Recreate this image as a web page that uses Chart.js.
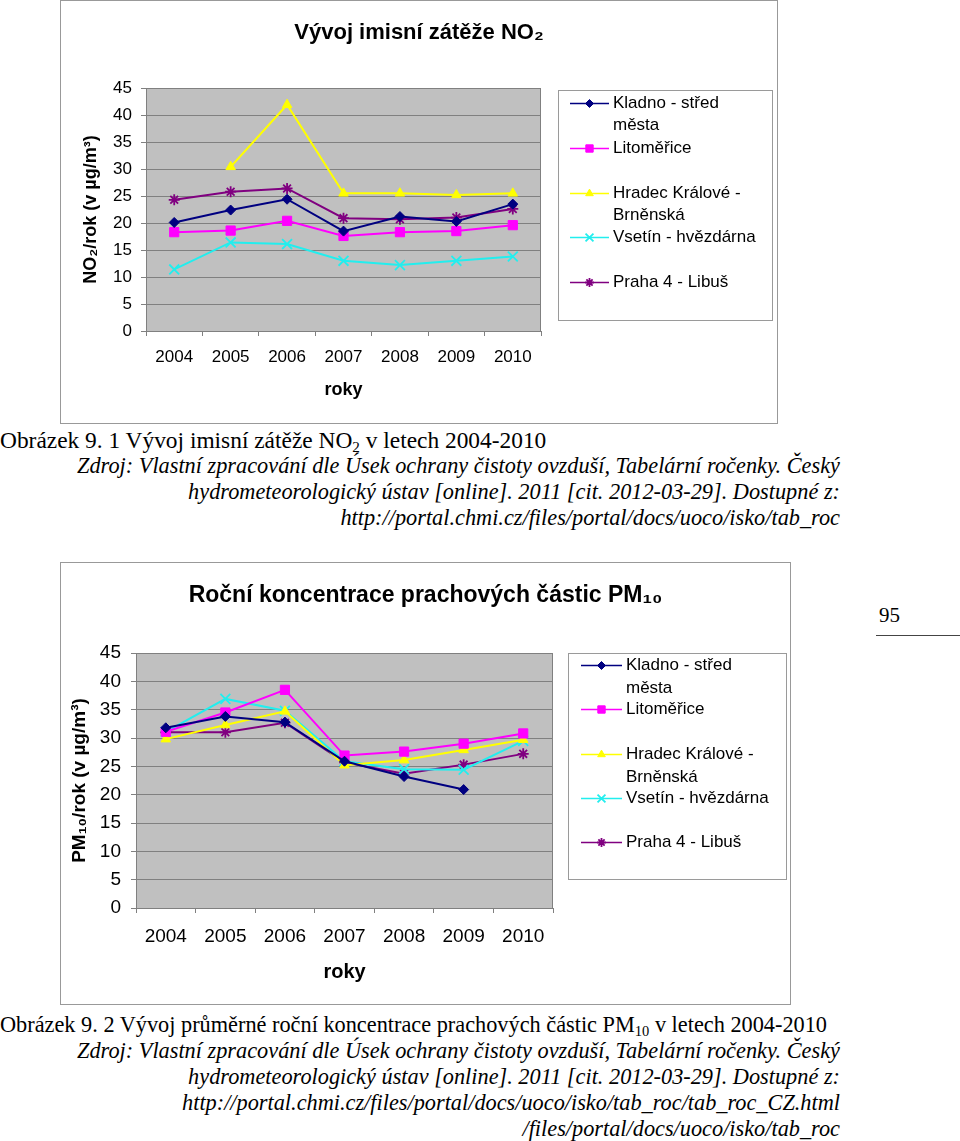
<!DOCTYPE html>
<html>
<head>
<meta charset="utf-8">
<script src="https://cdn.jsdelivr.net/npm/chart.js@4/dist/chart.umd.min.js"></script>
<style>
  html,body{margin:0;padding:0;background:#fff;}
  body{position:relative;width:960px;height:1141px;overflow:hidden;}
  .box{position:absolute;border:1px solid #999;background:#fff;}
  .box canvas{display:block;}
  .cap{position:absolute;left:0;font-family:'Liberation Serif','Times New Roman',serif;line-height:26px;color:#000;white-space:nowrap;}
  .src{position:absolute;left:0;width:840px;text-align:right;font-family:'Liberation Serif','Times New Roman',serif;font-style:italic;font-size:22.3px;line-height:26px;color:#000;white-space:nowrap;}
  sub{font-size:65%;vertical-align:-0.25em;line-height:0;}
  .pg{position:absolute;left:879px;top:603px;font-family:'Liberation Serif','Times New Roman',serif;font-size:21px;line-height:24px;}
  .pgline{position:absolute;left:876px;top:635px;width:84px;height:0;border-top:1px solid #444;}
</style>
</head>
<body>
<div class="box" style="left:60px;top:0px;"><canvas id="c1" width="716" height="422"></canvas></div>
<div class="cap" style="top:427px;font-size:23.4px;">Obrázek 9. 1 Vývoj imisní zátěže NO<sub>2</sub> v letech 2004-2010</div>
<div class="src" style="top:453px;">Zdroj: Vlastní zpracování dle Úsek ochrany čistoty ovzduší, Tabelární ročenky. Český<br>hydrometeorologický ústav [online]. 2011 [cit. 2012-03-29]. Dostupné z:<br>http://portal.chmi.cz/files/portal/docs/uoco/isko/tab_roc</div>

<div class="box" style="left:60px;top:562px;"><canvas id="c2" width="729" height="441"></canvas></div>
<div class="pg">95</div>
<div class="pgline"></div>
<div class="cap" style="top:1012px;font-size:22.3px;">Obrázek 9. 2 Vývoj průměrné roční koncentrace prachových částic PM<sub>10</sub> v letech 2004-2010</div>
<div class="src" style="top:1038px;">Zdroj: Vlastní zpracování dle Úsek ochrany čistoty ovzduší, Tabelární ročenky. Český<br>hydrometeorologický ústav [online]. 2011 [cit. 2012-03-29]. Dostupné z:<br>http://portal.chmi.cz/files/portal/docs/uoco/isko/tab_roc/tab_roc_CZ.html<br>/files/portal/docs/uoco/isko/tab_roc</div>

<script>
// ---------- DATA ----------
const years = ['2004','2005','2006','2007','2008','2009','2010'];
const seriesNames = ['Kladno - střed města','Litoměřice','Hradec Králové - Brněnská','Vsetín - hvězdárna','Praha 4 - Libuš'];
const legendLines = [['Kladno - střed','města'],['Litoměřice'],['Hradec Králové -','Brněnská'],['Vsetín - hvězdárna'],['Praha 4 - Libuš']];
const seriesColors = ['#000080','#FF00FF','#FFFF00','#22EEEE','#800080'];
const seriesMarkers = ['rectRot','rect','triangle','crossRot','star'];
const yTickMin = 0, yTickMax = 45, yTickStep = 5;

const no2Kladno     = [20.1, 22.4, 24.4, 18.5, 21.2, 20.3, 23.5];
const no2Litomerice = [18.3, 18.6, 20.4, 17.6, 18.3, 18.5, 19.6];
const no2Hradec     = [null, 30.4, 41.9, 25.5, 25.5, 25.2, 25.5];
const no2Vsetin     = [11.4, 16.4, 16.1, 13.0, 12.2, 13.0, 13.8];
const no2Praha      = [24.3, 25.8, 26.4, 20.9, 20.7, 21.0, 22.6];

const pmKladno      = [31.8, 33.8, 32.8, 25.9, 23.2, 20.9, null];
const pmLitomerice  = [31.1, 34.5, 38.5, 26.9, 27.6, 29.0, 30.8];
const pmHradec      = [29.8, 32.3, 34.7, 25.2, 26.1, 27.9, 29.7];
const pmVsetin      = [31.1, 36.9, 34.8, 25.9, 24.5, 24.4, 29.5];
const pmPraha       = [31.0, 31.0, 32.7, 25.7, 23.7, 25.3, 27.2];

const titleNO2 = 'Vývoj imisní zátěže NO₂';
const titlePM = 'Roční koncentrace prachových částic PM₁₀';
const yTitleNO2 = 'NO₂/rok (v µg/m³)';
const yTitlePM = 'PM₁₀/rok (v µg/m³)';
const xTitle = 'roky';

// ---------- HELPERS ----------
const SANS = "'Liberation Sans', Arial, sans-serif";
Chart.defaults.font.family = SANS;
Chart.defaults.color = '#000';

const markerRadius = {rectRot:5, rect:6.5, triangle:5.5, crossRot:7, star:5.5};

function makeDatasets(arrs){
  return arrs.map((d,i)=>({
    label: seriesNames[i],
    data: d,
    yAxisID: 'y',
    xAxisID: 'x',
    borderColor: seriesColors[i],
    backgroundColor: seriesColors[i],
    pointStyle: seriesMarkers[i],
    pointRadius: markerRadius[seriesMarkers[i]],
    pointBorderWidth: (seriesMarkers[i]==='crossRot'||seriesMarkers[i]==='star') ? 1.8 : 1,
    borderWidth: 2,
    tension: 0,
    spanGaps: false
  }));
}

const plotFrame = {
  id:'plotFrame',
  beforeDraw(chart){
    const {ctx, chartArea:a} = chart;
    ctx.save();
    ctx.fillStyle = '#C0C0C0';
    ctx.fillRect(a.left, a.top, a.right-a.left, a.bottom-a.top);
    ctx.restore();
  },
  beforeDatasetsDraw(chart){
    const {ctx, chartArea:a} = chart;
    ctx.save();
    ctx.strokeStyle = '#808080';
    ctx.lineWidth = 1;
    ctx.beginPath();
    ctx.moveTo(Math.round(a.left)+0.5, Math.round(a.top)+0.5);
    ctx.lineTo(Math.round(a.right)-0.5, Math.round(a.top)+0.5);
    ctx.lineTo(Math.round(a.right)-0.5, Math.round(a.bottom)+0.5);
    ctx.stroke();
    ctx.restore();
  }
};

const sideLegend = {
  id:'sideLegend',
  afterDraw(chart, args, o){
    const ctx = chart.ctx;
    ctx.save();
    ctx.strokeStyle = '#9a9a9a';
    ctx.lineWidth = 1;
    ctx.strokeRect(o.box[0]+0.5, o.box[1]+0.5, o.box[2], o.box[3]);
    ctx.font = o.fontSize + 'px ' + SANS;
    ctx.textBaseline = 'middle';
    ctx.textAlign = 'left';
    chart.data.datasets.forEach((ds,i)=>{
      const y = Math.round(o.firstY + i*o.step) + 0.5;
      ctx.strokeStyle = ds.borderColor;
      ctx.lineWidth = 1.5;
      ctx.beginPath();
      ctx.moveTo(o.lineX0, y); ctx.lineTo(o.lineX1, y);
      ctx.stroke();
      ctx.fillStyle = ds.backgroundColor;
      ctx.strokeStyle = ds.borderColor;
      ctx.lineWidth = ds.pointBorderWidth;
      Chart.helpers.drawPoint(ctx, {pointStyle: ds.pointStyle, radius: ds.pointRadius*0.8, borderWidth: ds.pointBorderWidth, rotation:0}, (o.lineX0+o.lineX1)/2, y);
      ctx.fillStyle = '#000';
      legendLines[i].forEach((t,k)=>{
        ctx.fillText(t, o.textX, y + k*o.lineGap);
      });
    });
    ctx.restore();
  }
};

function makeChart(id, datasets, cfg){
  return new Chart(document.getElementById(id), {
    type:'line',
    data:{labels: years, datasets},
    plugins:[plotFrame, sideLegend],
    options:{
      responsive:false,
      animation:false,
      events:[],
      layout:{padding:0},
      plugins:{
        legend:{display:false},
        tooltip:{enabled:false},
        title:{display:true, text:cfg.title, color:'#000',
          font:{size:cfg.titleSize, weight:'bold', family:SANS},
          padding:{top:cfg.titlePadTop, bottom:cfg.titlePadBottom}},
        sideLegend: cfg.legend
      },
      scales:{
        x:{
          offset:true,
          grid:{offset:true, drawOnChartArea:false, tickLength:5, color:'#808080'},
          border:{color:'#808080'},
          ticks:{font:{size:cfg.tickSize}, color:'#000', padding:cfg.xTickPad, maxRotation:0, autoSkip:false},
          title:{display:true, text:xTitle, color:'#000', font:{size:cfg.xTitleSize, weight:'bold'}, padding:{top:0, bottom:cfg.xTitlePadBottom}},
          afterFit(s){ s.height = cfg.xAxisHeight; }
        },
        y:{
          min:yTickMin, max:yTickMax,
          ticks:{stepSize:yTickStep, font:{size:cfg.tickSize}, color:'#000', padding:cfg.yTickPad},
          grid:{color:'#808080', tickLength:5},
          border:{color:'#808080'},
          title:{display:true, text:cfg.yTitle, color:'#000', font:{size:cfg.yTitleSize, weight:'bold'}, padding:{top:cfg.yTitlePadTop, bottom:0}},
          afterFit(s){ s.width = cfg.yAxisWidth; }
        },
        yLegendSpace:{
          axis:'y', type:'linear', position:'right', display:true,
          min:yTickMin, max:yTickMax,
          grid:{display:false, drawTicks:false},
          border:{display:false},
          ticks:{display:false},
          afterFit(s){ s.width = cfg.rightPad; }
        }
      }
    }
  });
}

makeChart('c1', makeDatasets([no2Kladno, no2Litomerice, no2Hradec, no2Vsetin, no2Praha]), {
  title:titleNO2, titleSize:22, titlePadTop:19, titlePadBottom:41.6,
  rightPad:236, tickSize:17, xTickPad:11, yTickPad:9,
  xTitleSize:18, xTitlePadBottom:22, xAxisHeight:92,
  yTitle:yTitleNO2, yTitleSize:18, yTitlePadTop:19.5, yAxisWidth:85,
  legend:{box:[497,89,214,230], firstY:102, step:44.8, lineGap:22, lineX0:509, lineX1:548, textX:552, fontSize:17}
});

makeChart('c2', makeDatasets([pmKladno, pmLitomerice, pmHradec, pmVsetin, pmPraha]), {
  title:titlePM, titleSize:23, titlePadTop:19.2, titlePadBottom:43.2,
  rightPad:237, tickSize:19, xTickPad:12.6, yTickPad:10,
  xTitleSize:20, xTitlePadBottom:20, xAxisHeight:96,
  yTitle:yTitlePM, yTitleSize:19, yTitlePadTop:7, yAxisWidth:75,
  legend:{box:[507,90,218,226], firstY:102, step:44.3, lineGap:22.5, lineX0:520, lineX1:561, textX:565, fontSize:17}
});
</script>
</body>
</html>
